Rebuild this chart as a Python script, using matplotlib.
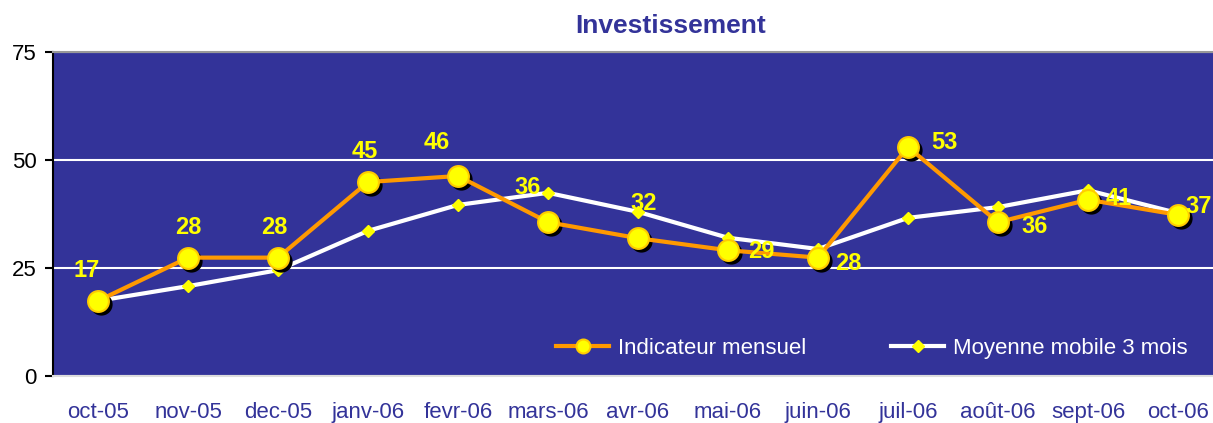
import matplotlib
matplotlib.use("Agg")
import matplotlib.pyplot as plt
import matplotlib.transforms as mtransforms

plt.rcParams['font.family'] = ['Liberation Sans', 'DejaVu Sans']

months = ['oct-05', 'nov-05', 'dec-05', 'janv-06', 'fevr-06', 'mars-06', 'avr-06',
          'mai-06', 'juin-06', 'juil-06', 'août-06', 'sept-06', 'oct-06']
monthly = [17.4, 27.4, 27.4, 44.9, 46.3, 35.6, 31.9, 29.1, 27.4, 53.0, 35.6, 40.8, 37.3]
moving_avg = [17.4, 20.8, 24.5, 33.6, 39.6, 42.4, 38.0, 32.0, 29.4, 36.6, 39.1, 43.0, 37.7]
label_text = ['17', '28', '28', '45', '46', '36', '32', '29', '28', '53', '36', '41', '37']
# label offsets in points (dx, dy) relative to each point
label_offsets = [(-8, 22), (0, 22), (-3, 22), (-2, 22), (-15, 24), (-15, 25), (4, 25),
                 (24, -1), (22, -4), (26, 3), (26, -3), (22, 1), (15, 6)]

BG = '#333399'
ORANGE = '#FF9900'
YELLOW = '#FFFF00'

fig = plt.figure(figsize=(12.13, 4.23), dpi=100)
ax = fig.add_axes([53 / 1213, 47 / 423, 1170 / 1213, 324 / 423])
ax.set_facecolor(BG)

x = list(range(len(months)))

# moving average (white line, small yellow diamonds)
ax.plot(x, moving_avg, color='white', lw=3, zorder=3,
        marker='D', ms=6, mfc=YELLOW, mec=YELLOW, label='Moyenne mobile 3 mois')

# shadow for monthly markers
shadow = mtransforms.offset_copy(ax.transData, fig=fig, x=3, y=-3, units='dots')
ax.plot(x, monthly, ls='none', marker='o', ms=15, mfc='black', mec='black',
        transform=shadow, zorder=4)
ax.plot(x, monthly, color=ORANGE, lw=3, zorder=5,
        marker='o', ms=15, mfc=YELLOW, mec='#FFCC00', mew=1.5, label='Indicateur mensuel')

for xi, yi, t, (dx, dy) in zip(x, monthly, label_text, label_offsets):
    ax.annotate(t, (xi, yi), xytext=(dx, dy), textcoords='offset points',
                ha='center', va='center', color=YELLOW, fontsize=17,
                fontweight='bold', zorder=6, annotation_clip=False)

ax.set_xlim(-0.5, len(months) - 0.5)
ax.set_ylim(0, 75)
ax.set_yticks([0, 25, 50, 75])
ax.set_xticks(x)
ax.set_xticklabels(months)
ax.yaxis.grid(True, color='white', lw=1.5)
ax.set_axisbelow(True)

ax.tick_params(axis='x', length=0, pad=19, labelsize=16, labelcolor=BG)
ax.tick_params(axis='y', length=6, width=1.5, direction='out', pad=6,
               labelsize=16, colors='black')

ax.spines['left'].set_color('black')
ax.spines['left'].set_linewidth(1.5)
ax.spines['top'].set_color('#999999')
ax.spines['top'].set_linewidth(1.5)
ax.spines['bottom'].set_color('#dddddd')
ax.spines['bottom'].set_linewidth(1.5)
ax.spines['right'].set_visible(False)

handles, labels = ax.get_legend_handles_labels()
leg = ax.legend(handles[::-1], labels[::-1], loc='center', bbox_to_anchor=(0.70, 0.086),
                ncol=2, frameon=False, fontsize=16, labelcolor='white',
                handlelength=2.4, columnspacing=3.8, handletextpad=0.4)
for h in leg.legend_handles:
    if h.get_label() == 'Indicateur mensuel':
        h.set_markersize(10)

fig.text(671 / 1213, 1 - 26 / 423, 'Investissement', ha='center', va='center',
         fontsize=19, fontweight='bold', color=BG)

fig.savefig('out.png', dpi=100)
